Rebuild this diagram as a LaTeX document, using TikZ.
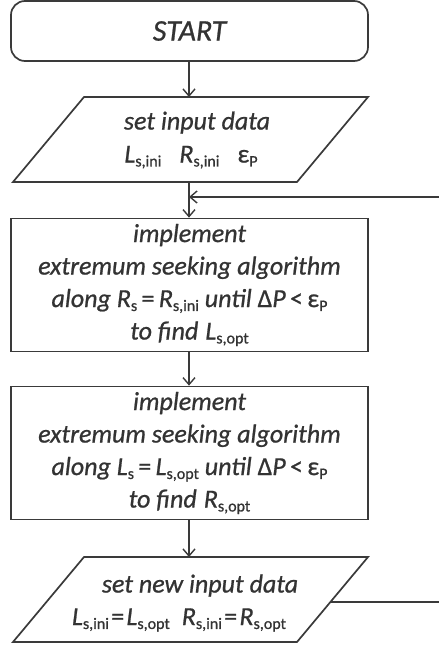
\documentclass[tikz,border=0pt]{standalone}
\usepackage{fontspec}
\setmainfont{Carlito}[FakeBold=0.8]
\usetikzlibrary{arrows.meta}
\definecolor{ink}{HTML}{3A3A3A}
\definecolor{txt}{HTML}{333333}
% upright, lowered subscript
\newcommand{\sbs}[1]{\raisebox{-0.15em}{\fontsize{16}{17}\selectfont\upshape #1}}
\newcommand{\up}[1]{{\upshape #1}}
% empty box used to offset a centred line
\newcommand{\pad}[1]{\hbox to #1{}}
% tight equals sign
\newcommand{\eqs}{\hspace{2.3pt}\up{=}\hspace{2.3pt}}

\begin{document}
\begin{tikzpicture}[x=1pt,y={(0,-1pt)},
  every node/.style={text=txt, font=\fontsize{26}{32.5}\selectfont\itshape},
  outline/.style={draw=ink, line width=1.7pt},
  stepbox/.style={outline, minimum width=357pt, inner sep=0pt, align=center},
  startbox/.style={stepbox, rounded corners=14pt, minimum height=60pt,
    font=\fontsize{30}{36}\selectfont\itshape},
  procbox/.style={stepbox, minimum height=133pt},
  iotext/.style={inner sep=0pt, align=center},
  arr/.style={draw=ink, line width=1.7pt, -{Straight Barb[length=7pt,width=12pt,line width=1.4pt]}}
]
\useasboundingbox (0,0) rectangle (439,646);

% start terminal
\node[startbox] (start) at (189.5,31) {START};

% first input parallelogram
\draw[outline, line join=miter] (84,97) -- (368,97) -- (297,182) -- (13,182) -- cycle;
\coordinate (in1n) at (189,97);
\coordinate (in1s) at (189,182);
\node[iotext] (in1) at (193,140) {\pad{8pt}set input data\\[0.5pt]
  L\sbs{s,ini}\hspace{18pt}R\sbs{s,ini}\hspace{18pt}\up{ε}\sbs{P}\pad{4pt}};

% first search step
\node[procbox] (box1) at (189.5,285) {implement\\
  extremum seeking algorithm\\
  along R\sbs{s}\,\up{=}\,R\sbs{s,ini} until \up{Δ}P\,\up{<}\,\up{ε}\sbs{P}\\
  to find\hspace{7pt}L\sbs{s,opt}};

% second search step
\node[procbox] (box2) at (189.5,453) {implement\\
  extremum seeking algorithm\\
  along L\sbs{s}\,\up{=}\,L\sbs{s,opt} until \up{Δ}P\,\up{<}\,\up{ε}\sbs{P}\\
  to find\hspace{7pt}R\sbs{s,opt}};

% second input parallelogram
\draw[outline, line join=miter] (84,557) -- (368,557) -- (297,642) -- (13,642) -- cycle;
\coordinate (in2n) at (189,557);
\coordinate (in2e) at (330,602);
\node[iotext] (in2) at (189.5,603) {\pad{21pt}set new input data\\
  L\sbs{s,ini}\eqs L\sbs{s,opt}\hspace{12pt}R\sbs{s,ini}\eqs R\sbs{s,opt}\pad{21pt}};

% merge point of the loop
\coordinate (join) at (189,197);

% connectors
\draw[arr] (start.south -| in1n) -- (in1n);
\draw[arr] (in1s) -- (box1.north -| in1s);
\draw[arr] (box1.south -| in1s) -- (box2.north -| in1s);
\draw[arr] (box2.south -| in1s) -- (in2n);
\draw[arr] (in2e) -- ++(130,0) |- (join);
\end{tikzpicture}
\end{document}
